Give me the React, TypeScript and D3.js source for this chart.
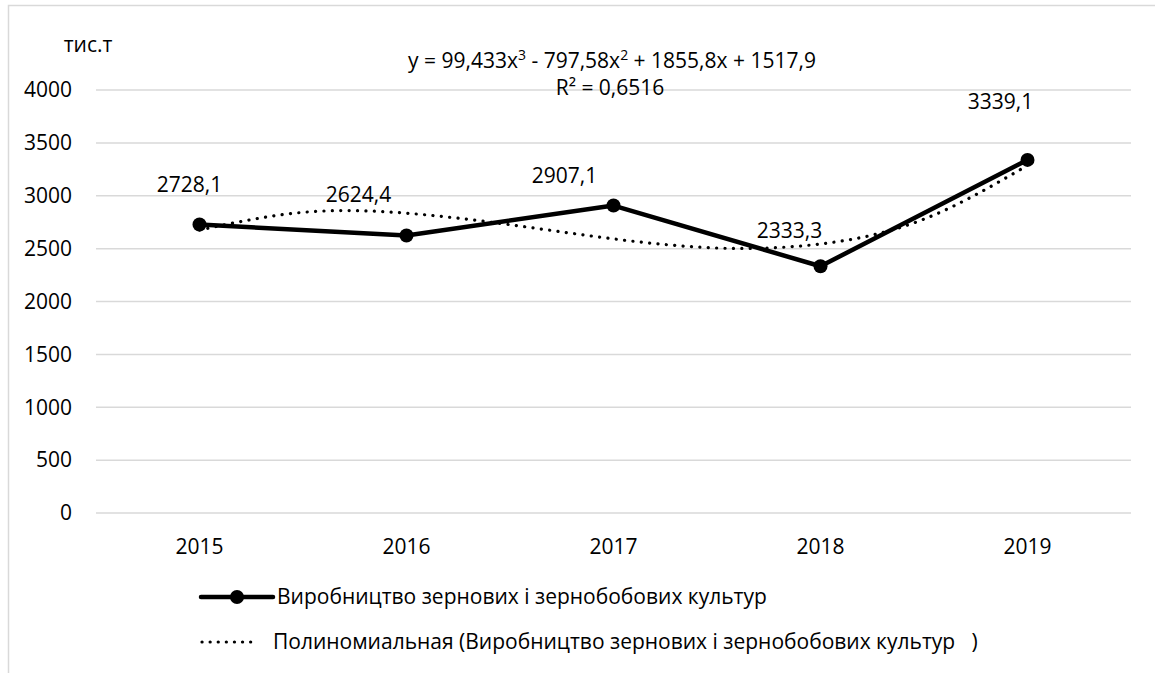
import React from "react";
import * as d3 from "d3";

// data
const years = ["2015", "2016", "2017", "2018", "2019"];
const production = [2728.1, 2624.4, 2907.1, 2333.3, 3339.1];
const productionLabels = ["2728,1", "2624,4", "2907,1", "2333,3", "3339,1"];
// trendline read at half-year steps (index 0 = 2015)
const trendSteps = [0, 0.5, 1, 1.5, 2, 2.5, 3, 3.5, 4];
const trendValues = [2676, 2843, 2835, 2726, 2592, 2506, 2544, 2779, 3287];
const yTicks = [0, 500, 1000, 1500, 2000, 2500, 3000, 3500, 4000];

const seriesName = "Виробництво зернових і зернобобових культур";
const trendName = "Полиномиальная (Виробництво зернових і зернобобових культур   )";

// label nudges (Excel data labels were dragged by hand)
const labelShift = [[-10, -40], [-48, -41], [-49, -30], [-31, -36], [-27, -58]];

const W = 1155, H = 673;
const margin = {top: 90, right: 24, bottom: 160, left: 96};
const font = "'Open Sans', sans-serif";
const fs = 21;

export default function App() {
    const x = d3.scaleBand()
        .domain(years)
        .range([margin.left, W - margin.right]);
    const y = d3.scaleLinear()
        .domain([0, 4000])
        .range([H - margin.bottom, margin.top]);
    const cx = (i: number) => x(years[i])! + x.bandwidth() / 2;

    const line = d3.line<number>()
        .x((d, i) => cx(i))
        .y(d => y(d));

    const xStep = d3.scaleLinear().domain([0, 4]).range([cx(0), cx(4)]);
    const trend = d3.line<number>()
        .x((d, i) => xStep(trendSteps[i]))
        .y(d => y(d))
        .curve(d3.curveNatural);

    return (
        <svg width={W} height={H} style={{position: "absolute", left: 0, top: 0, background: "#fff"}}
             fontFamily={font}>
            {/* chart area border */}
            <path d={`M8.5,${H} V5.5 H${W}`} fill="none" stroke="#d9d9d9" strokeWidth={1.5}/>

            {yTicks.map(t => (
                <g key={t}>
                    <line x1={margin.left} x2={W - margin.right} y1={y(t)} y2={y(t)}
                          stroke="#d9d9d9" strokeWidth={1.5}/>
                    <text x={72} y={y(t)} dy="0.35em" textAnchor="end" fontSize={fs} fill="#000">{t}</text>
                </g>
            ))}
            <text x={88} y={45} dy="0.35em" textAnchor="middle" fontSize={fs}>тис.т</text>

            {years.map((yr, i) => (
                <text key={yr} x={cx(i)} y={H - margin.bottom + 34} dy="0.35em" textAnchor="middle"
                      fontSize={fs}>{yr}</text>
            ))}

            <path d={line(production)!} fill="none" stroke="#000" strokeWidth={4.5} strokeLinejoin="round"/>
            {production.map((v, i) => (
                <circle key={i} cx={cx(i)} cy={y(v)} r={7} fill="#000"/>
            ))}
            <path d={trend(trendValues)!} fill="none" stroke="#000" strokeWidth={3.2}
                  strokeLinecap="round" strokeDasharray="0.1 8.3"/>

            {production.map((v, i) => (
                <text key={i} x={cx(i) + labelShift[i][0]} y={y(v) + labelShift[i][1]} dy="0.35em"
                      textAnchor="middle" fontSize={fs}>{productionLabels[i]}</text>
            ))}

            {/* trendline equation */}
            <text x={612} y={61} dy="0.35em" textAnchor="middle" fontSize={fs}>
                y = 99,433x<tspan fontSize={14} dy="-8">3</tspan><tspan dy="8"> - 797,58x</tspan>
                <tspan fontSize={14} dy="-8">2</tspan><tspan dy="8"> + 1855,8x + 1517,9</tspan>
            </text>
            <text x={610} y={88} dy="0.35em" textAnchor="middle" fontSize={fs}>R² = 0,6516</text>

            {/* legend */}
            <line x1={201} x2={273} y1={597} y2={597} stroke="#000" strokeWidth={4.5} strokeLinecap="round"/>
            <circle cx={237} cy={597} r={7} fill="#000"/>
            <text x={277} y={597} dy="0.35em" fontSize={fs}>{seriesName}</text>
            <line x1={202} x2={258} y1={642} y2={642} stroke="#000" strokeWidth={3.2}
                  strokeLinecap="round" strokeDasharray="0.1 8"/>
            <text x={273} y={642} dy="0.35em" fontSize={fs} style={{whiteSpace: "pre"}}>{trendName}</text>
        </svg>
    );
}
